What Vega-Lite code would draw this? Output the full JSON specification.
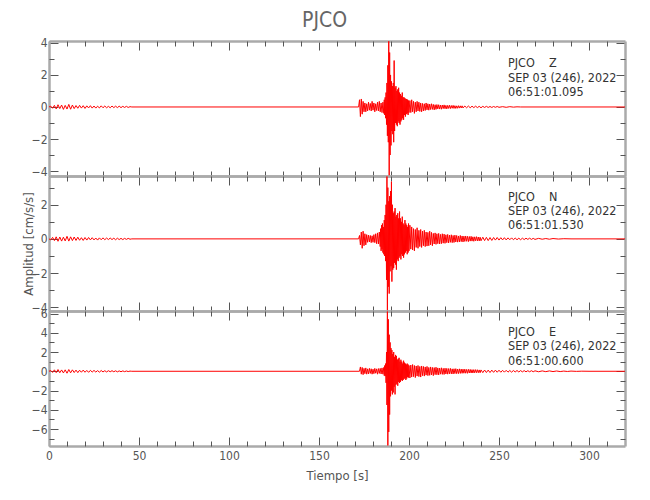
{
"$schema": "https://vega.github.io/schema/vega-lite/v6.json",
"padding": {"left": 22, "top": 9, "right": 5, "bottom": 5},
"bounds": "flush",
"title": {"text": "PJCO", "fontSize": 21, "fontWeight": "normal", "color": "#666", "font": "DejaVu Sans Condensed, sans-serif", "anchor": "middle", "offset": 6},
"datasets": {
"ann": [
{"p":"Z","t":255,"a":2.515,"s":"PJCO\u00a0\u00a0\u00a0\u00a0Z"},
{"p":"Z","t":255,"a":1.578,"s":"SEP 03 (246), 2022"},
{"p":"Z","t":255,"a":0.685,"s":"06:51:01.095"},
{"p":"N","t":255,"a":2.217,"s":"PJCO\u00a0\u00a0\u00a0\u00a0N"},
{"p":"N","t":255,"a":1.369,"s":"SEP 03 (246), 2022"},
{"p":"N","t":255,"a":0.579,"s":"06:51:01.530"},
{"p":"E","t":255,"a":3.664,"s":"PJCO\u00a0\u00a0\u00a0\u00a0E"},
{"p":"E","t":255,"a":2.179,"s":"SEP 03 (246), 2022"},
{"p":"E","t":255,"a":0.621,"s":"06:51:00.600"}
],
"Z": [
{"t":0,"a":0},{"t":1,"a":0.05},{"t":2,"a":-0.08},{"t":3,"a":0.1},{"t":4,"a":-0.12},{"t":5,"a":0.14},{"t":6,"a":-0.1},{"t":7,"a":0.12},{"t":8,"a":-0.15},{"t":9,"a":0.1},{"t":10,"a":-0.13},{"t":11,"a":0.16},{"t":12,"a":-0.14},{"t":13,"a":0.12},{"t":14,"a":-0.1},{"t":15,"a":0.09},{"t":16,"a":-0.08},{"t":17,"a":0.1},{"t":18,"a":-0.07},{"t":19,"a":0.08},{"t":20,"a":-0.09},{"t":21,"a":0.07},{"t":22,"a":-0.06},{"t":23,"a":0.08},{"t":24,"a":-0.07},{"t":25,"a":0.06},{"t":26,"a":-0.07},{"t":27,"a":0.05},{"t":28,"a":-0.06},{"t":29,"a":0.07},{"t":30,"a":-0.05},{"t":31,"a":0.06},{"t":32,"a":-0.05},{"t":33,"a":0.04},{"t":34,"a":-0.05},{"t":35,"a":0.06},{"t":36,"a":-0.04},{"t":37,"a":0.05},{"t":38,"a":-0.04},{"t":39,"a":0.05},{"t":40,"a":-0.04},{"t":41,"a":0.04},{"t":42,"a":-0.03},{"t":43,"a":0.04},{"t":44,"a":-0.03},{"t":45,"a":0.02},{"t":46,"a":0},{"t":172,"a":0},
{"t":172.5,"a":0.45},{"t":173,"a":-0.6},{"t":173.5,"a":0.5},{"t":174,"a":-0.45},{"t":174.5,"a":0.35},{"t":175,"a":-0.3},{"t":175.5,"a":0.25},{"t":176,"a":-0.3},{"t":176.5,"a":0.2},{"t":177,"a":-0.25},{"t":177.5,"a":0.3},{"t":178,"a":-0.2},{"t":178.5,"a":0.22},{"t":179,"a":-0.25},{"t":179.5,"a":0.35},{"t":180,"a":-0.2},{"t":180.5,"a":0.25},{"t":181,"a":-0.3},{"t":181.5,"a":0.2},{"t":182,"a":-0.22},{"t":182.5,"a":0.3},{"t":183,"a":-0.25},{"t":183.5,"a":0.35},{"t":184,"a":-0.3},{"t":184.5,"a":0.25},{"t":185,"a":-0.35},{"t":185.5,"a":0.3},{"t":186,"a":-0.4},
{"t":186.25,"a":0.45},{"t":186.5,"a":-0.5},{"t":186.75,"a":0.6},{"t":187,"a":-0.7},{"t":187.25,"a":0.9},{"t":187.5,"a":-1.1},{"t":187.75,"a":1.5},{"t":188,"a":-1.8},{"t":188.25,"a":2.6},{"t":188.5,"a":-2.2},{"t":188.75,"a":4.1},{"t":189,"a":-4.3},{"t":189.25,"a":3.4},{"t":189.5,"a":-3.0},{"t":189.75,"a":2.0},{"t":190,"a":-2.4},{"t":190.25,"a":1.6},{"t":190.5,"a":-1.5},{"t":190.75,"a":1.3},{"t":191,"a":-1.7},{"t":191.25,"a":1.5},{"t":191.5,"a":-2.2},{"t":191.75,"a":2.9},{"t":192,"a":-1.5},
{"t":192.25,"a":1.2},{"t":192.5,"a":-1.0},{"t":192.75,"a":1.3},{"t":193,"a":-1.1},{"t":193.25,"a":1.0},{"t":193.5,"a":-1.2},{"t":193.75,"a":1.1},{"t":194,"a":-0.9},{"t":194.25,"a":1.2},{"t":194.5,"a":-1.0},{"t":194.75,"a":0.9},{"t":195,"a":-1.1},{"t":195.25,"a":0.8},{"t":195.5,"a":-0.9},{"t":195.75,"a":0.7},{"t":196,"a":-0.8},{"t":196.25,"a":0.9},{"t":196.5,"a":-0.7},{"t":196.75,"a":0.6},{"t":197,"a":-0.8},{"t":197.25,"a":0.6},{"t":197.5,"a":-0.5},{"t":197.75,"a":0.55},{"t":198,"a":-0.6},{"t":198.25,"a":0.5},{"t":198.5,"a":-0.45},{"t":198.75,"a":0.5},{"t":199,"a":-0.4},{"t":199.25,"a":0.45},{"t":199.5,"a":-0.5},{"t":199.75,"a":0.4},{"t":200,"a":-0.35},
{"t":200.5,"a":0.4},{"t":201,"a":-0.35},{"t":201.5,"a":0.45},{"t":202,"a":-0.3},{"t":202.5,"a":0.35},{"t":203,"a":-0.4},{"t":203.5,"a":0.3},{"t":204,"a":-0.3},{"t":204.5,"a":0.35},{"t":205,"a":-0.25},{"t":205.5,"a":0.3},{"t":206,"a":-0.28},{"t":206.5,"a":0.25},{"t":207,"a":-0.3},{"t":207.5,"a":0.22},{"t":208,"a":-0.25},{"t":208.5,"a":0.2},{"t":209,"a":-0.22},{"t":209.5,"a":0.25},{"t":210,"a":-0.18},{"t":210.5,"a":0.2},{"t":211,"a":-0.2},{"t":211.5,"a":0.18},{"t":212,"a":-0.16},{"t":212.5,"a":0.2},{"t":213,"a":-0.15},{"t":213.5,"a":0.16},{"t":214,"a":-0.18},{"t":214.5,"a":0.14},{"t":215,"a":-0.15},{"t":215.5,"a":0.15},{"t":216,"a":-0.12},{"t":216.5,"a":0.14},{"t":217,"a":-0.13},{"t":217.5,"a":0.12},{"t":218,"a":-0.14},{"t":218.5,"a":0.12},{"t":219,"a":-0.1},{"t":219.5,"a":0.13},{"t":220,"a":-0.11},{"t":220.5,"a":0.1},{"t":221,"a":-0.12},{"t":221.5,"a":0.1},{"t":222,"a":-0.09},{"t":222.5,"a":0.11},{"t":223,"a":-0.1},{"t":223.5,"a":0.09},{"t":224,"a":-0.08},{"t":224.5,"a":0.1},{"t":225,"a":-0.09},{"t":225.5,"a":0.08},{"t":226,"a":-0.09},{"t":226.5,"a":0.07},{"t":227,"a":-0.08},{"t":227.5,"a":0.08},{"t":228,"a":-0.07},{"t":228.5,"a":0.07},{"t":229,"a":-0.06},{"t":229.5,"a":0.07},{"t":230,"a":-0.06},
{"t":231,"a":0.06},{"t":232,"a":-0.05},{"t":233,"a":0.06},{"t":234,"a":-0.05},{"t":235,"a":0.05},{"t":236,"a":-0.04},{"t":237,"a":0.05},{"t":238,"a":-0.04},{"t":239,"a":0.04},{"t":240,"a":-0.05},{"t":241,"a":0.04},{"t":242,"a":-0.03},{"t":243,"a":0.04},{"t":244,"a":-0.03},{"t":245,"a":0.03},{"t":246,"a":-0.03},{"t":247,"a":0.03},{"t":248,"a":-0.02},{"t":249,"a":0.03},{"t":250,"a":-0.02},{"t":252,"a":0.02},{"t":254,"a":-0.02},{"t":256,"a":0.02},{"t":258,"a":-0.01},{"t":260,"a":0.01},{"t":262,"a":0},{"t":320,"a":0}
],
"N": [
{"t":0,"a":0},{"t":1,"a":-0.06},{"t":2,"a":0.09},{"t":3,"a":-0.1},{"t":4,"a":0.12},{"t":5,"a":-0.14},{"t":6,"a":0.11},{"t":7,"a":-0.13},{"t":8,"a":0.1},{"t":9,"a":-0.12},{"t":10,"a":0.15},{"t":11,"a":-0.13},{"t":12,"a":0.12},{"t":13,"a":-0.1},{"t":14,"a":0.11},{"t":15,"a":-0.09},{"t":16,"a":0.1},{"t":17,"a":-0.08},{"t":18,"a":0.07},{"t":19,"a":-0.09},{"t":20,"a":0.08},{"t":21,"a":-0.07},{"t":22,"a":0.08},{"t":23,"a":-0.06},{"t":24,"a":0.07},{"t":25,"a":-0.06},{"t":26,"a":0.05},{"t":27,"a":-0.07},{"t":28,"a":0.06},{"t":29,"a":-0.05},{"t":30,"a":0.06},{"t":31,"a":-0.05},{"t":32,"a":0.05},{"t":33,"a":-0.04},{"t":34,"a":0.05},{"t":35,"a":-0.04},{"t":36,"a":0.04},{"t":37,"a":-0.05},{"t":38,"a":0.04},{"t":39,"a":-0.04},{"t":40,"a":0.03},{"t":41,"a":-0.04},{"t":42,"a":0.03},{"t":43,"a":-0.03},{"t":44,"a":0.03},{"t":45,"a":-0.02},{"t":46,"a":0},{"t":172,"a":0},
{"t":172.5,"a":0.2},{"t":173,"a":-0.35},{"t":173.5,"a":0.4},{"t":174,"a":-0.55},{"t":174.5,"a":0.45},{"t":175,"a":-0.4},{"t":175.5,"a":0.3},{"t":176,"a":-0.35},{"t":176.5,"a":0.25},{"t":177,"a":-0.2},{"t":177.5,"a":0.22},{"t":178,"a":-0.18},{"t":178.5,"a":0.2},{"t":179,"a":-0.22},{"t":179.5,"a":0.18},{"t":180,"a":-0.2},{"t":180.5,"a":0.25},{"t":181,"a":-0.22},{"t":181.5,"a":0.3},{"t":182,"a":-0.28},{"t":182.5,"a":0.35},{"t":183,"a":-0.3},{"t":183.5,"a":0.4},{"t":184,"a":-0.45},
{"t":184.25,"a":0.6},{"t":184.5,"a":-0.7},{"t":184.75,"a":0.8},{"t":185,"a":-0.6},{"t":185.25,"a":0.9},{"t":185.5,"a":-0.8},{"t":185.75,"a":0.7},{"t":186,"a":-0.9},{"t":186.25,"a":1.1},{"t":186.5,"a":-1.0},{"t":186.75,"a":1.4},{"t":187,"a":-1.3},{"t":187.25,"a":2.0},{"t":187.5,"a":-2.4},{"t":187.75,"a":3.65},{"t":188,"a":-4.2},{"t":188.25,"a":3.0},{"t":188.5,"a":-2.8},{"t":188.75,"a":2.2},{"t":189,"a":-3.2},{"t":189.25,"a":2.5},{"t":189.5,"a":-1.9},{"t":189.75,"a":2.8},{"t":190,"a":-1.6},{"t":190.25,"a":3.35},{"t":190.5,"a":-2.5},{"t":190.75,"a":2.0},{"t":191,"a":-1.8},{"t":191.25,"a":1.5},{"t":191.5,"a":-1.7},{"t":191.75,"a":1.6},{"t":192,"a":-1.4},{"t":192.25,"a":1.8},{"t":192.5,"a":-1.5},{"t":192.75,"a":1.3},{"t":193,"a":-1.8},{"t":193.25,"a":1.4},{"t":193.5,"a":-1.2},{"t":193.75,"a":1.5},{"t":194,"a":-1.3},{"t":194.25,"a":1.2},{"t":194.5,"a":-1.1},{"t":194.75,"a":1.6},{"t":195,"a":-1.0},{"t":195.25,"a":1.2},{"t":195.5,"a":-1.2},{"t":195.75,"a":1.0},{"t":196,"a":-0.9},{"t":196.25,"a":1.3},{"t":196.5,"a":-1.0},{"t":196.75,"a":0.9},{"t":197,"a":-1.1},{"t":197.25,"a":0.8},{"t":197.5,"a":-0.9},{"t":197.75,"a":1.1},{"t":198,"a":-0.8},{"t":198.25,"a":0.9},{"t":198.5,"a":-0.7},{"t":198.75,"a":0.8},{"t":199,"a":-0.9},{"t":199.25,"a":0.7},{"t":199.5,"a":-0.8},{"t":199.75,"a":0.9},{"t":200,"a":-0.7},
{"t":200.5,"a":0.8},{"t":201,"a":-0.6},{"t":201.5,"a":0.7},{"t":202,"a":-0.65},{"t":202.5,"a":0.6},{"t":203,"a":-0.7},{"t":203.5,"a":0.55},{"t":204,"a":-0.5},{"t":204.5,"a":0.65},{"t":205,"a":-0.55},{"t":205.5,"a":0.5},{"t":206,"a":-0.45},{"t":206.5,"a":0.55},{"t":207,"a":-0.5},{"t":207.5,"a":0.45},{"t":208,"a":-0.4},{"t":208.5,"a":0.5},{"t":209,"a":-0.45},{"t":209.5,"a":0.4},{"t":210,"a":-0.42},{"t":210.5,"a":0.38},{"t":211,"a":-0.4},{"t":211.5,"a":0.45},{"t":212,"a":-0.35},{"t":212.5,"a":0.38},{"t":213,"a":-0.4},{"t":213.5,"a":0.32},{"t":214,"a":-0.3},{"t":214.5,"a":0.35},{"t":215,"a":-0.32},{"t":215.5,"a":0.3},{"t":216,"a":-0.28},{"t":216.5,"a":0.32},{"t":217,"a":-0.3},{"t":217.5,"a":0.26},{"t":218,"a":-0.28},{"t":218.5,"a":0.3},{"t":219,"a":-0.25},{"t":219.5,"a":0.28},{"t":220,"a":-0.26},{"t":220.5,"a":0.24},{"t":221,"a":-0.22},{"t":221.5,"a":0.26},{"t":222,"a":-0.24},{"t":222.5,"a":0.22},{"t":223,"a":-0.2},{"t":223.5,"a":0.24},{"t":224,"a":-0.22},{"t":224.5,"a":0.2},{"t":225,"a":-0.21},{"t":225.5,"a":0.22},{"t":226,"a":-0.18},{"t":226.5,"a":0.2},{"t":227,"a":-0.19},{"t":227.5,"a":0.17},{"t":228,"a":-0.18},{"t":228.5,"a":0.2},{"t":229,"a":-0.16},{"t":229.5,"a":0.17},{"t":230,"a":-0.18},{"t":230.5,"a":0.16},{"t":231,"a":-0.15},{"t":231.5,"a":0.17},{"t":232,"a":-0.14},{"t":232.5,"a":0.15},{"t":233,"a":-0.16},{"t":233.5,"a":0.14},{"t":234,"a":-0.13},{"t":234.5,"a":0.15},{"t":235,"a":-0.13},{"t":235.5,"a":0.12},{"t":236,"a":-0.14},{"t":236.5,"a":0.12},{"t":237,"a":-0.11},{"t":237.5,"a":0.13},{"t":238,"a":-0.12},{"t":238.5,"a":0.11},{"t":239,"a":-0.12},{"t":239.5,"a":0.1},{"t":240,"a":-0.11},
{"t":241,"a":0.1},{"t":242,"a":-0.1},{"t":243,"a":0.09},{"t":244,"a":-0.1},{"t":245,"a":0.08},{"t":246,"a":-0.09},{"t":247,"a":0.08},{"t":248,"a":-0.07},{"t":249,"a":0.08},{"t":250,"a":-0.07},{"t":251,"a":0.07},{"t":252,"a":-0.06},{"t":253,"a":0.07},{"t":254,"a":-0.06},{"t":255,"a":0.06},{"t":256,"a":-0.05},{"t":257,"a":0.06},{"t":258,"a":-0.05},{"t":259,"a":0.05},{"t":260,"a":-0.05},{"t":261,"a":0.04},{"t":262,"a":-0.05},{"t":263,"a":0.04},{"t":264,"a":-0.04},{"t":265,"a":0.04},{"t":266,"a":-0.03},{"t":267,"a":0.04},{"t":268,"a":-0.03},{"t":269,"a":0.03},{"t":270,"a":-0.03},{"t":272,"a":0.03},{"t":274,"a":-0.02},{"t":276,"a":0.02},{"t":278,"a":-0.02},{"t":280,"a":0.02},{"t":283,"a":-0.01},{"t":286,"a":0.01},{"t":290,"a":0},{"t":320,"a":0}
],
"E": [
{"t":0,"a":0},{"t":1,"a":0.08},{"t":2,"a":-0.12},{"t":3,"a":0.15},{"t":4,"a":-0.14},{"t":5,"a":0.18},{"t":6,"a":-0.15},{"t":7,"a":0.14},{"t":8,"a":-0.17},{"t":9,"a":0.15},{"t":10,"a":-0.2},{"t":11,"a":0.18},{"t":12,"a":-0.16},{"t":13,"a":0.15},{"t":14,"a":-0.13},{"t":15,"a":0.12},{"t":16,"a":-0.14},{"t":17,"a":0.11},{"t":18,"a":-0.1},{"t":19,"a":0.12},{"t":20,"a":-0.1},{"t":21,"a":0.09},{"t":22,"a":-0.11},{"t":23,"a":0.1},{"t":24,"a":-0.08},{"t":25,"a":0.09},{"t":26,"a":-0.08},{"t":27,"a":0.07},{"t":28,"a":-0.09},{"t":29,"a":0.08},{"t":30,"a":-0.07},{"t":31,"a":0.06},{"t":32,"a":-0.07},{"t":33,"a":0.06},{"t":34,"a":-0.05},{"t":35,"a":0.06},{"t":36,"a":-0.05},{"t":37,"a":0.05},{"t":38,"a":-0.06},{"t":39,"a":0.04},{"t":40,"a":-0.05},{"t":41,"a":0.04},{"t":42,"a":-0.04},{"t":43,"a":0.03},{"t":44,"a":-0.03},{"t":45,"a":0.02},{"t":46,"a":0},{"t":172.5,"a":0},
{"t":173,"a":0.45},{"t":173.5,"a":-0.3},{"t":174,"a":0.4},{"t":174.5,"a":-0.35},{"t":175,"a":0.3},{"t":175.5,"a":-0.25},{"t":176,"a":0.35},{"t":176.5,"a":-0.3},{"t":177,"a":0.25},{"t":177.5,"a":-0.28},{"t":178,"a":0.3},{"t":178.5,"a":-0.22},{"t":179,"a":0.26},{"t":179.5,"a":-0.3},{"t":180,"a":0.22},{"t":180.5,"a":-0.25},{"t":181,"a":0.3},{"t":181.5,"a":-0.2},{"t":182,"a":0.25},{"t":182.5,"a":-0.3},{"t":183,"a":0.28},{"t":183.5,"a":-0.22},{"t":184,"a":0.3},{"t":184.5,"a":-0.28},{"t":185,"a":0.35},{"t":185.5,"a":-0.3},{"t":186,"a":0.4},
{"t":186.25,"a":-0.45},{"t":186.5,"a":0.6},{"t":186.75,"a":-0.5},{"t":187,"a":0.8},{"t":187.25,"a":-1.2},{"t":187.5,"a":2.0},{"t":187.75,"a":-3.5},{"t":188,"a":6.2},{"t":188.25,"a":-7.7},{"t":188.5,"a":5.4},{"t":188.75,"a":-6.3},{"t":189,"a":3.8},{"t":189.25,"a":-4.5},{"t":189.5,"a":3.0},{"t":189.75,"a":-2.6},{"t":190,"a":2.4},{"t":190.25,"a":-2.0},{"t":190.5,"a":2.2},{"t":190.75,"a":-2.4},{"t":191,"a":1.8},{"t":191.25,"a":-2.2},{"t":191.5,"a":2.0},{"t":191.75,"a":-1.6},{"t":192,"a":1.5},{"t":192.25,"a":-2.4},{"t":192.5,"a":1.7},{"t":192.75,"a":-1.4},{"t":193,"a":1.6},{"t":193.25,"a":-1.3},{"t":193.5,"a":1.2},{"t":193.75,"a":-1.5},{"t":194,"a":1.3},{"t":194.25,"a":-1.1},{"t":194.5,"a":1.4},{"t":194.75,"a":-1.2},{"t":195,"a":1.0},{"t":195.25,"a":-1.1},{"t":195.5,"a":1.2},{"t":195.75,"a":-0.9},{"t":196,"a":1.0},{"t":196.25,"a":-1.0},{"t":196.5,"a":0.8},{"t":196.75,"a":-0.9},{"t":197,"a":1.1},{"t":197.25,"a":-0.8},{"t":197.5,"a":0.9},{"t":197.75,"a":-0.7},{"t":198,"a":0.8},{"t":198.25,"a":-0.9},{"t":198.5,"a":0.7},{"t":198.75,"a":-0.75},{"t":199,"a":0.8},{"t":199.25,"a":-0.6},{"t":199.5,"a":0.7},{"t":199.75,"a":-0.65},{"t":200,"a":0.6},
{"t":200.5,"a":-0.7},{"t":201,"a":0.65},{"t":201.5,"a":-0.6},{"t":202,"a":0.7},{"t":202.5,"a":-0.55},{"t":203,"a":0.6},{"t":203.5,"a":-0.65},{"t":204,"a":0.55},{"t":204.5,"a":-0.5},{"t":205,"a":0.6},{"t":205.5,"a":-0.55},{"t":206,"a":0.5},{"t":206.5,"a":-0.6},{"t":207,"a":0.55},{"t":207.5,"a":-0.45},{"t":208,"a":0.5},{"t":208.5,"a":-0.5},{"t":209,"a":0.45},{"t":209.5,"a":-0.4},{"t":210,"a":0.5},{"t":210.5,"a":-0.45},{"t":211,"a":0.4},{"t":211.5,"a":-0.42},{"t":212,"a":0.45},{"t":212.5,"a":-0.38},{"t":213,"a":0.4},{"t":213.5,"a":-0.45},{"t":214,"a":0.38},{"t":214.5,"a":-0.35},{"t":215,"a":0.42},{"t":215.5,"a":-0.36},{"t":216,"a":0.35},{"t":216.5,"a":-0.38},{"t":217,"a":0.33},{"t":217.5,"a":-0.3},{"t":218,"a":0.36},{"t":218.5,"a":-0.32},{"t":219,"a":0.3},{"t":219.5,"a":-0.33},{"t":220,"a":0.32},{"t":220.5,"a":-0.28},{"t":221,"a":0.3},{"t":221.5,"a":-0.3},{"t":222,"a":0.28},{"t":222.5,"a":-0.26},{"t":223,"a":0.3},{"t":223.5,"a":-0.27},{"t":224,"a":0.25},{"t":224.5,"a":-0.28},{"t":225,"a":0.26},{"t":225.5,"a":-0.24},{"t":226,"a":0.27},{"t":226.5,"a":-0.25},{"t":227,"a":0.23},{"t":227.5,"a":-0.24},{"t":228,"a":0.25},{"t":228.5,"a":-0.22},{"t":229,"a":0.23},{"t":229.5,"a":-0.21},{"t":230,"a":0.22},{"t":230.5,"a":-0.2},{"t":231,"a":0.22},{"t":231.5,"a":-0.2},{"t":232,"a":0.19},{"t":232.5,"a":-0.21},{"t":233,"a":0.2},{"t":233.5,"a":-0.18},{"t":234,"a":0.19},{"t":234.5,"a":-0.18},{"t":235,"a":0.17},{"t":235.5,"a":-0.18},{"t":236,"a":0.17},{"t":236.5,"a":-0.16},{"t":237,"a":0.17},{"t":237.5,"a":-0.15},{"t":238,"a":0.16},{"t":238.5,"a":-0.15},{"t":239,"a":0.14},{"t":239.5,"a":-0.15},{"t":240,"a":0.14},
{"t":241,"a":-0.14},{"t":242,"a":0.13},{"t":243,"a":-0.13},{"t":244,"a":0.12},{"t":245,"a":-0.13},{"t":246,"a":0.12},{"t":247,"a":-0.11},{"t":248,"a":0.12},{"t":249,"a":-0.1},{"t":250,"a":0.11},{"t":251,"a":-0.1},{"t":252,"a":0.1},{"t":253,"a":-0.09},{"t":254,"a":0.1},{"t":255,"a":-0.09},{"t":256,"a":0.08},{"t":257,"a":-0.09},{"t":258,"a":0.08},{"t":259,"a":-0.07},{"t":260,"a":0.08},{"t":261,"a":-0.07},{"t":262,"a":0.07},{"t":263,"a":-0.06},{"t":264,"a":0.07},{"t":265,"a":-0.06},{"t":266,"a":0.06},{"t":267,"a":-0.05},{"t":268,"a":0.06},{"t":269,"a":-0.05},{"t":270,"a":0.05},{"t":272,"a":-0.05},{"t":274,"a":0.04},{"t":276,"a":-0.04},{"t":278,"a":0.04},{"t":280,"a":-0.03},{"t":282,"a":0.03},{"t":284,"a":-0.03},{"t":286,"a":0.02},{"t":288,"a":-0.02},{"t":290,"a":0.02},{"t":293,"a":-0.01},{"t":296,"a":0.01},{"t":300,"a":0},{"t":320,"a":0}
]
},
"spacing": 0,
"vconcat": [
{
"width": 576, "height": 135,
"resolve": {"axis": {"x": "independent", "y": "independent"}},
"layer": [
{"data": {"name": "Z"}, "mark": {"type": "line", "color": "#ff0000", "strokeWidth": 1},
 "encoding": {
  "x": {"field": "t", "type": "quantitative", "scale": {"domain": [0, 320], "nice": false, "zero": false}, "axis": {"orient": "bottom", "values": [0,50,100,150,200,250,300], "tickSize": -9, "labels": false, "title": null}},
  "y": {"field": "a", "type": "quantitative", "scale": {"domain": [-4.31, 4.12], "nice": false, "zero": false}, "axis": {"orient": "left", "values": [-4,-2,0,2,4], "tickSize": -9, "labelPadding": 11, "title": null}}}},
{"data": {"name": "ann"}, "transform": [{"filter": "datum.p == 'Z'"}], "mark": {"type": "text", "align": "left", "baseline": "alphabetic", "fontSize": 12.5, "color": "#333"},
 "encoding": {
  "x": {"field": "t", "type": "quantitative", "scale": {"domain": [0, 320], "nice": false, "zero": false}, "axis": {"orient": "bottom", "values": [10,20,30,40,60,70,80,90,110,120,130,140,160,170,180,190,210,220,230,240,260,270,280,290,310], "tickSize": -5, "labels": false, "domain": false, "title": null}},
  "y": {"field": "a", "type": "quantitative", "scale": {"domain": [-4.31, 4.12], "nice": false, "zero": false}, "axis": {"orient": "left", "values": [-3,-1,1,3], "tickSize": -5, "labels": false, "domain": false, "title": null}},
  "text": {"field": "s"}}},
{"data": {"name": "ann"}, "transform": [{"filter": "datum.p == 'Z'"}], "mark": {"type": "point", "opacity": 0},
 "encoding": {
  "x": {"field": "t", "type": "quantitative", "scale": {"domain": [0, 320], "nice": false, "zero": false}, "axis": {"orient": "top", "values": [0,50,100,150,200,250,300], "tickSize": -9, "labels": false, "title": null}},
  "y": {"field": "a", "type": "quantitative", "scale": {"domain": [-4.31, 4.12], "nice": false, "zero": false}, "axis": {"orient": "right", "values": [-4,-2,0,2,4], "tickSize": -9, "labels": false, "title": null}}}},
{"data": {"name": "ann"}, "transform": [{"filter": "datum.p == 'Z'"}], "mark": {"type": "point", "opacity": 0},
 "encoding": {
  "x": {"field": "t", "type": "quantitative", "scale": {"domain": [0, 320], "nice": false, "zero": false}, "axis": {"orient": "top", "values": [10,20,30,40,60,70,80,90,110,120,130,140,160,170,180,190,210,220,230,240,260,270,280,290,310], "tickSize": -5, "labels": false, "domain": false, "title": null}},
  "y": {"field": "a", "type": "quantitative", "scale": {"domain": [-4.31, 4.12], "nice": false, "zero": false}, "axis": {"orient": "right", "values": [-3,-1,1,3], "tickSize": -5, "labels": false, "domain": false, "title": null}}}}
]
},
{
"width": 576, "height": 135,
"resolve": {"axis": {"x": "independent", "y": "independent"}},
"layer": [
{"data": {"name": "N"}, "mark": {"type": "line", "color": "#ff0000", "strokeWidth": 1},
 "encoding": {
  "x": {"field": "t", "type": "quantitative", "scale": {"domain": [0, 320], "nice": false, "zero": false}, "axis": {"orient": "bottom", "values": [0,50,100,150,200,250,300], "tickSize": -9, "labels": false, "title": null}},
  "y": {"field": "a", "type": "quantitative", "scale": {"domain": [-4.22, 3.68], "nice": false, "zero": false}, "axis": {"orient": "left", "values": [-4,-2,0,2], "tickSize": -9, "labelPadding": 11, "title": "Amplitud [cm/s/s]", "titlePadding": -4}}}},
{"data": {"name": "ann"}, "transform": [{"filter": "datum.p == 'N'"}], "mark": {"type": "text", "align": "left", "baseline": "alphabetic", "fontSize": 12.5, "color": "#333"},
 "encoding": {
  "x": {"field": "t", "type": "quantitative", "scale": {"domain": [0, 320], "nice": false, "zero": false}, "axis": {"orient": "bottom", "values": [10,20,30,40,60,70,80,90,110,120,130,140,160,170,180,190,210,220,230,240,260,270,280,290,310], "tickSize": -5, "labels": false, "domain": false, "title": null}},
  "y": {"field": "a", "type": "quantitative", "scale": {"domain": [-4.22, 3.68], "nice": false, "zero": false}, "axis": {"orient": "left", "values": [-3,-1,1,3], "tickSize": -5, "labels": false, "domain": false, "title": null}},
  "text": {"field": "s"}}},
{"data": {"name": "ann"}, "transform": [{"filter": "datum.p == 'N'"}], "mark": {"type": "point", "opacity": 0},
 "encoding": {
  "x": {"field": "t", "type": "quantitative", "scale": {"domain": [0, 320], "nice": false, "zero": false}, "axis": {"orient": "top", "values": [0,50,100,150,200,250,300], "tickSize": -9, "labels": false, "title": null}},
  "y": {"field": "a", "type": "quantitative", "scale": {"domain": [-4.22, 3.68], "nice": false, "zero": false}, "axis": {"orient": "right", "values": [-4,-2,0,2], "tickSize": -9, "labels": false, "title": null}}}},
{"data": {"name": "ann"}, "transform": [{"filter": "datum.p == 'N'"}], "mark": {"type": "point", "opacity": 0},
 "encoding": {
  "x": {"field": "t", "type": "quantitative", "scale": {"domain": [0, 320], "nice": false, "zero": false}, "axis": {"orient": "top", "values": [10,20,30,40,60,70,80,90,110,120,130,140,160,170,180,190,210,220,230,240,260,270,280,290,310], "tickSize": -5, "labels": false, "domain": false, "title": null}},
  "y": {"field": "a", "type": "quantitative", "scale": {"domain": [-4.22, 3.68], "nice": false, "zero": false}, "axis": {"orient": "right", "values": [-3,-1,1,3], "tickSize": -5, "labels": false, "domain": false, "title": null}}}}
]
},
{
"width": 576, "height": 135,
"resolve": {"axis": {"x": "independent", "y": "independent"}},
"layer": [
{"data": {"name": "E"}, "mark": {"type": "line", "color": "#ff0000", "strokeWidth": 1},
 "encoding": {
  "x": {"field": "t", "type": "quantitative", "scale": {"domain": [0, 320], "nice": false, "zero": false}, "axis": {"orient": "bottom", "values": [0,50,100,150,200,250,300], "tickSize": -9, "labelPadding": 13, "title": "Tiempo [s]", "titlePadding": 8}},
  "y": {"field": "a", "type": "quantitative", "scale": {"domain": [-7.76, 6.26], "nice": false, "zero": false}, "axis": {"orient": "left", "values": [-6,-4,-2,0,2,4,6], "tickSize": -9, "labelPadding": 11, "title": null}}}},
{"data": {"name": "ann"}, "transform": [{"filter": "datum.p == 'E'"}], "mark": {"type": "text", "align": "left", "baseline": "alphabetic", "fontSize": 12.5, "color": "#333"},
 "encoding": {
  "x": {"field": "t", "type": "quantitative", "scale": {"domain": [0, 320], "nice": false, "zero": false}, "axis": {"orient": "bottom", "values": [10,20,30,40,60,70,80,90,110,120,130,140,160,170,180,190,210,220,230,240,260,270,280,290,310], "tickSize": -5, "labels": false, "domain": false, "title": null}},
  "y": {"field": "a", "type": "quantitative", "scale": {"domain": [-7.76, 6.26], "nice": false, "zero": false}, "axis": {"orient": "left", "values": [-7,-5,-3,-1,1,3,5], "tickSize": -5, "labels": false, "domain": false, "title": null}},
  "text": {"field": "s"}}},
{"data": {"name": "ann"}, "transform": [{"filter": "datum.p == 'E'"}], "mark": {"type": "point", "opacity": 0},
 "encoding": {
  "x": {"field": "t", "type": "quantitative", "scale": {"domain": [0, 320], "nice": false, "zero": false}, "axis": {"orient": "top", "values": [0,50,100,150,200,250,300], "tickSize": -9, "labels": false, "title": null}},
  "y": {"field": "a", "type": "quantitative", "scale": {"domain": [-7.76, 6.26], "nice": false, "zero": false}, "axis": {"orient": "right", "values": [-6,-4,-2,0,2,4,6], "tickSize": -9, "labels": false, "title": null}}}},
{"data": {"name": "ann"}, "transform": [{"filter": "datum.p == 'E'"}], "mark": {"type": "point", "opacity": 0},
 "encoding": {
  "x": {"field": "t", "type": "quantitative", "scale": {"domain": [0, 320], "nice": false, "zero": false}, "axis": {"orient": "top", "values": [10,20,30,40,60,70,80,90,110,120,130,140,160,170,180,190,210,220,230,240,260,270,280,290,310], "tickSize": -5, "labels": false, "domain": false, "title": null}},
  "y": {"field": "a", "type": "quantitative", "scale": {"domain": [-7.76, 6.26], "nice": false, "zero": false}, "axis": {"orient": "right", "values": [-7,-5,-3,-1,1,3,5], "tickSize": -5, "labels": false, "domain": false, "title": null}}}}
]
}
],
"config": {
 "view": {"stroke": null},
 "font": "DejaVu Sans Condensed, sans-serif",
 "text": {"font": "DejaVu Sans Condensed, sans-serif"},
 "axis": {"grid": false, "labelFont": "DejaVu Sans Condensed, sans-serif", "labelFontSize": 12, "labelColor": "#555", "titleFont": "DejaVu Sans Condensed, sans-serif", "titleFontSize": 13, "titleFontWeight": "normal", "titleColor": "#555", "tickColor": "#555", "tickWidth": 1, "domainColor": "#aaa", "domainWidth": 2.5, "labelOverlap": false, "labelFlush": false, "labelBound": false}
}
}
